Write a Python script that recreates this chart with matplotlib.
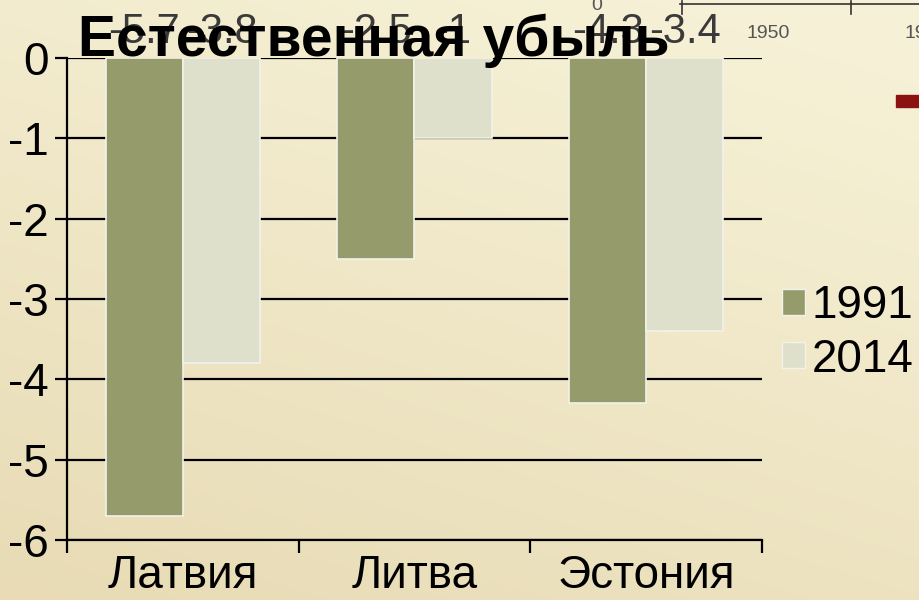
import numpy as np
import matplotlib
matplotlib.use("Agg")
import matplotlib.pyplot as plt
from matplotlib.lines import Line2D
from matplotlib.patches import Rectangle, Patch

plt.rcParams['font.family'] = ['Liberation Sans', 'DejaVu Sans']

countries = ["Латвия", "Литва", "Эстония"]
years = ["1991", "2014"]
vals1991 = [-5.7, -2.5, -4.3]
vals2014 = [-3.8, -1, -3.4]
yticks = [0, -1, -2, -3, -4, -5, -6]
title = "Естественная убыль"

col1991 = "#959b6a"
col2014 = "#dfe0cb"

fig = plt.figure(figsize=(9.2, 6), dpi=100)

### parchment-like background (soft gradient)
bg = fig.add_axes([0, 0, 1, 1], zorder=-10)
gx, gy = np.meshgrid(np.linspace(0, 1, 200), np.linspace(0, 1, 200))
shade = np.clip(0.35 * gx + 0.75 * gy, 0, 1)
c0 = np.array([0.91, 0.86, 0.71])
c1 = np.array([0.965, 0.945, 0.84])
img = c0[None, None, :] * (1 - shade[..., None]) + c1[None, None, :] * shade[..., None]
bg.imshow(img, extent=[0, 1, 0, 1], aspect='auto', origin='lower')
bg.axis('off')

### fragment of another chart at top right
fig.text(597 / 920, 1 - 6 / 600, "0", fontsize=14, color="#555555", ha='center', va='center')
fig.text(768 / 920, 1 - 33 / 600, "1950", fontsize=14, color="#555555", ha='center', va='center')
fig.text(905 / 920, 1 - 33 / 600, "19", fontsize=14, color="#555555", ha='left', va='center')
fig.add_artist(Line2D([680 / 920, 1], [1 - 4 / 600, 1 - 4 / 600], color="#333333", lw=1.2))
fig.add_artist(Line2D([682 / 920, 682 / 920], [1 - 1 / 600, 1 - 14 / 600], color="#333333", lw=1.2))
fig.add_artist(Line2D([851 / 920, 851 / 920], [1 - 1 / 600, 1 - 14 / 600], color="#333333", lw=1.2))
fig.add_artist(Rectangle((896 / 920, 1 - 107 / 600), 30 / 920, 12 / 600, color="#8c1212"))

### main chart
ax = fig.add_axes([67 / 920, 0.1, (762 - 67) / 920, 0.8033])
ax.set_facecolor('none')
x = np.arange(len(countries))
w = 1 / 3
ax.bar(x - w / 2, vals1991, width=w, color=col1991, edgecolor="#f2f2ea", linewidth=1.2, zorder=3)
ax.bar(x + w / 2, vals2014, width=w, color=col2014, edgecolor="#f2f2ea", linewidth=1.2, zorder=3)

ax.set_xlim(-0.5, 2.5)
ax.set_ylim(-6, 0)
ax.set_yticks(yticks)
ax.set_yticklabels([str(v) for v in yticks], fontsize=33)
ax.yaxis.grid(True, color='black', linewidth=1.6)
ax.set_axisbelow(True)
ax.set_xticks(x)
ax.set_xticklabels(countries, fontsize=33)
ax.set_xticks(np.arange(len(countries) + 1) - 0.5, minor=True)
ax.tick_params(axis='x', which='major', length=0, pad=10)
ax.tick_params(axis='x', which='minor', length=9, width=1.6, direction='out')
ax.tick_params(axis='y', length=9, width=1.6, direction='out', pad=4)
for s in ['top', 'right']:
    ax.spines[s].set_visible(False)
ax.spines['left'].set_linewidth(1.6)
ax.spines['bottom'].set_linewidth(1.6)

### value labels above the zero line
for i in range(len(countries)):
    ax.text(x[i] - w / 2, 0.08, f"{vals1991[i]:g}", ha='center', va='bottom', fontsize=30, color="#3a3a3a", clip_on=False)
    ax.text(x[i] + w / 2, 0.08, f"{vals2014[i]:g}", ha='center', va='bottom', fontsize=30, color="#3a3a3a", clip_on=False)

fig.text(78 / 920, 1 - 56 / 600, title, fontsize=41, fontweight='bold', color='black', ha='left', va='baseline')

handles = [Patch(facecolor=col1991, edgecolor="#f2f2ea"), Patch(facecolor=col2014, edgecolor="#f2f2ea")]
fig.legend(handles, years, loc='center left', bbox_to_anchor=(782 / 920, 1 - 333 / 600),
           frameon=False, fontsize=33, handlelength=0.5, handleheight=0.5, handletextpad=0.15,
           labelspacing=0.2, borderaxespad=0, borderpad=0)

fig.savefig("out.png", dpi=100)
